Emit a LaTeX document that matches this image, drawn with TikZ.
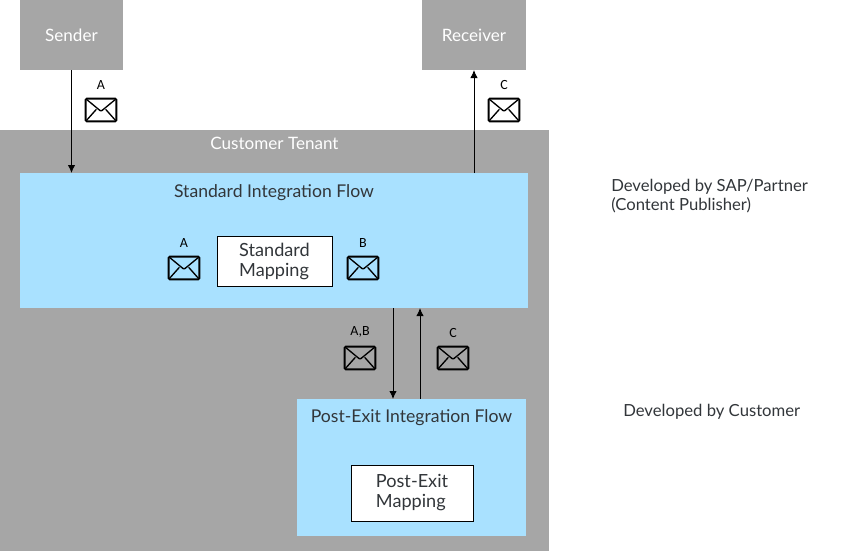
\documentclass[tikz,border=0pt]{standalone}
\usepackage{fontspec}
\setmainfont{Lato}
\newfontfamily\letterfont{Carlito}
\usetikzlibrary{arrows.meta, positioning}
\definecolor{tenant}{HTML}{A6A6A6}
\definecolor{flow}{HTML}{A9E1FF}
\definecolor{flowtext}{HTML}{32363A}

\begin{document}
\begin{tikzpicture}[x=0.75pt, y=-0.75pt, >={Latex[length=6pt, width=5.5pt]}, font=\fontsize{12.8}{14}\selectfont,
    block/.style={fill=tenant, text=white, inner sep=0pt, outer sep=0pt},
    flowbox/.style={fill=flow, inner sep=0pt, outer sep=0pt},
    mapbox/.style={draw=black, fill=white, line width=0.7pt, align=left, inner sep=0pt, outer sep=0pt, text=flowtext, font=\fontsize{13.6}{15}\selectfont},
    flowtitle/.style={text=flowtext, inner sep=0pt, font=\fontsize{13.2}{15}\selectfont},
    note/.style={align=left, inner sep=0pt, text=flowtext, font=\fontsize{12.5}{14}\selectfont},
    flowline/.style={->, line width=0.65pt},
    mail/.style={draw=black, line width=1.4pt, rounded corners=0.8pt, minimum width=23pt, minimum height=17pt, inner sep=0pt, outer sep=0pt,
      label={[font=\letterfont\fontsize{10.5}{12}\selectfont, text=black, inner sep=0pt, label distance=6.5pt]above:#1},
      path picture={
        \draw[line width=1pt] (path picture bounding box.north west) -- ([yshift=-9.5pt]path picture bounding box.north) -- (path picture bounding box.north east);
        \draw[line width=1pt] (path picture bounding box.south west) -- ([xshift=-3.5pt,yshift=-8pt]path picture bounding box.north);
        \draw[line width=1pt] (path picture bounding box.south east) -- ([xshift=3.5pt,yshift=-8pt]path picture bounding box.north);
      }}]
  \useasboundingbox (0,0) rectangle (857,551);

  \node[block, anchor=north west, minimum width=411.75pt, minimum height=315.75pt] (tenant) at (0,130) {};
  \node[block, above right=45pt and 15pt of tenant.north west, minimum width=77.25pt, minimum height=52.5pt] (sender) {Sender};
  \node[block, right=224.25pt of sender, minimum width=78pt, minimum height=52.5pt] (receiver) {Receiver};
  \node[text=white, inner sep=0pt, below=5pt of tenant.north] (tenanttitle) {Customer Tenant};

  \node[flowbox, below right=32.25pt and 15pt of tenant.north west, minimum width=381pt, minimum height=101.25pt] (std) {};
  \node[flowbox, below left=68.25pt and 1.5pt of std.south east, minimum width=171.75pt, minimum height=102.75pt] (post) {};
  \node[flowtitle, below=8.5pt of std.north] (stdtitle) {Standard Integration Flow};
  \node[flowtitle, below=7.5pt of post.north] (posttitle) {Post-Exit Integration Flow};

  \node[mapbox, below right=47.25pt and 147.75pt of std.north west, minimum width=86.25pt, minimum height=37.5pt] (stdmap) {Standard\\Mapping};
  \node[mapbox, below right=49.5pt and 40.5pt of post.north west, minimum width=91.5pt, minimum height=42pt] (postmap) {Post-Exit\\Mapping};

  \node[mail=A] (mailin) at (101,110) {};
  \node[mail=C] (mailout) at (504,110) {};
  \node[mail=A] (mailstda) at (184,268) {};
  \node[mail=B] (mailstdb) at (363,268) {};
  \node[mail={A,B}] (mailexit) at (360,358) {};
  \node[mail=C] (mailback) at (453,358) {};

  \coordinate (exitdown) at (393,399);
  \coordinate (exitup) at (420,399);
  \draw[flowline] (sender) -- (sender |- std.north);
  \draw[flowline] (receiver |- std.north) -- (receiver);
  \draw[flowline] (exitdown |- std.south) -- (exitdown);
  \draw[flowline] (exitup) -- (exitup |- std.south);

  \node[note, anchor=west] (notesap) at (611,196) {Developed by SAP/Partner\\(Content Publisher)};
  \node[note, anchor=west] (notecust) at (623,412) {Developed by Customer};
\end{tikzpicture}
\end{document}
